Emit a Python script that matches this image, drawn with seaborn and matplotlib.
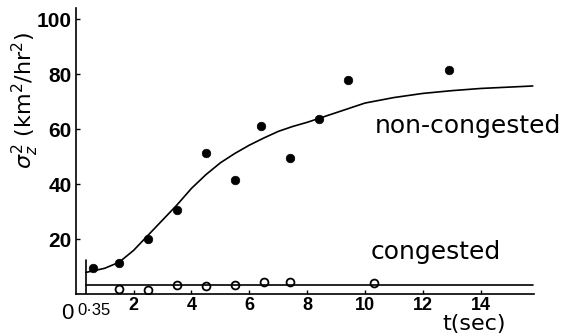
import numpy as np
import pandas as pd
import matplotlib
matplotlib.use("Agg")
import matplotlib.pyplot as plt
import seaborn as sns

# data
t_noncong = [0.6, 1.5, 2.5, 3.5, 4.5, 5.5, 6.4, 7.4, 8.4, 9.4, 12.9]
s_noncong = [9.5, 11.5, 20.0, 30.8, 51.2, 41.7, 61.2, 49.6, 63.6, 78.0, 81.5]

t_cong = [1.5, 2.5, 3.5, 4.5, 5.5, 6.5, 7.4, 10.3]
s_cong = [2.0, 1.5, 3.5, 3.0, 3.3, 4.5, 4.7, 4.1]

# fitted curves as drawn in the figure
t_fit = [0.35, 1.0, 1.5, 2.0, 2.5, 3.0, 3.5, 4.0, 4.5, 5.0, 5.5, 6.0, 6.5,
         7.0, 7.5, 8.0, 9.0, 10.0, 11.0, 12.0, 13.0, 14.0, 15.0, 15.8]
s_fit = [8.0, 9.5, 11.7, 16.0, 21.5, 27.0, 32.5, 38.5, 43.5, 47.8, 51.2, 54.2,
         56.8, 59.2, 61.0, 62.5, 66.0, 69.5, 71.5, 73.0, 74.0, 74.8, 75.3, 75.7]
t_cong_fit = [0.35, 15.8]
s_cong_fit = [3.3, 3.3]

xticks = [2, 4, 6, 8, 10, 12, 14]
yticks = [20, 40, 60, 80, 100]

sns.set_style("ticks")
plt.rcParams["font.family"] = ["DejaVu Sans"]
for key in ["text.color", "xtick.color", "ytick.color", "axes.edgecolor", "axes.labelcolor"]:
    plt.rcParams[key] = "black"
num_font = ["Liberation Sans", "DejaVu Sans"]

fig = plt.figure(figsize=(5.66, 3.35), dpi=100)
ax = fig.add_axes([0.1338, 0.121, 0.81, 0.855])

sns.lineplot(x=t_fit, y=s_fit, color="black", lw=1.2, ax=ax, sort=False)
sns.lineplot(x=t_cong_fit, y=s_cong_fit, color="black", lw=1.2, ax=ax)
sns.scatterplot(x=t_noncong, y=s_noncong, color="black", s=38, edgecolor="black", ax=ax)
sns.scatterplot(x=t_cong, y=s_cong, facecolor="white", edgecolor="black",
                linewidth=1.3, s=32, ax=ax)
ax.plot([0.35, 0.35], [0, 12.4], color="black", lw=1.2)

ax.set_xlim(0, 15.85)
ax.set_ylim(0, 104)
sns.despine(ax=ax)
for sp in ["left", "bottom"]:
    ax.spines[sp].set_linewidth(1.2)

ax.set_xticks(xticks)
ax.set_xticklabels([str(v) for v in xticks], family=num_font, weight="bold", fontsize=13)
ax.set_yticks(yticks)
ax.set_yticklabels([str(v) for v in yticks], family=num_font, weight="bold", fontsize=15)
ax.tick_params(axis="both", direction="in", length=3, width=1)
ax.tick_params(axis="x", pad=2)
ax.tick_params(axis="y", pad=3)

ax.text(-0.08, -0.03, "0", transform=ax.get_xaxis_transform(), ha="right", va="top",
        family=num_font, fontsize=16)
ax.text(0.05, -0.03, "0·35", transform=ax.get_xaxis_transform(), ha="left", va="top",
        family=num_font, fontsize=12)

ax.text(10.35, 61, "non-congested", fontsize=18, va="center", ha="left")
ax.text(10.2, 15.5, "congested", fontsize=18, va="center", ha="left")
fig.text(474 / 566, 0.002, "t(sec)", fontsize=16, ha="center", va="bottom")
fig.text(25 / 566, 1 - 101 / 335, r"$\sigma_z^2$ (km$^2$/hr$^2$)", fontsize=16,
         rotation=90, ha="center", va="center")

fig.savefig("out.png", dpi=100)
